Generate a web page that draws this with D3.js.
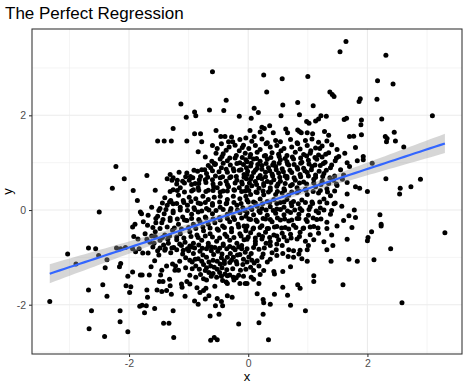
<!DOCTYPE html>
<html><head><meta charset="utf-8">
<script src="https://cdn.jsdelivr.net/npm/d3@7/dist/d3.min.js"></script>
<style>body{margin:0;background:#fff}svg{display:block}</style>
</head><body>
<svg id="chart" width="468" height="387"></svg>
<script>
const title = "The Perfect Regression";
const xLabel = "x";
const yLabel = "y";
const xTicks = [-2, 0, 2];
const yTicks = [-2, 0, 2];
const xMinor = [-3, -1, 1, 3];
const yMinor = [-3, -1, 1, 3];

// outlying / sparse points
const topPoints = [[-0.60,2.92],[-1.13,2.24],[-0.37,2.32],[-0.90,2.07],[-0.88,1.99],[-1.04,1.96],[-0.65,2.11],[-0.41,2.10],[-0.15,1.98],[-1.26,1.72],[-0.54,1.68],[-0.90,1.61],[-0.80,1.61],[-0.46,1.55],[-0.39,1.55],[-0.28,1.54],
[1.64,3.56],[1.54,3.34],[0.26,2.85],[0.57,2.77],[1.00,2.82],[0.31,2.49],[1.37,2.49],[1.41,2.44],[1.44,2.40],[0.58,2.22],[0.83,2.27],[1.09,2.20],[0.10,2.15],[0.17,2.06],[0.05,1.94],[0.55,1.99],[0.86,2.01],[1.22,1.99],[1.31,1.98],[1.18,1.92],[0.98,1.87],[1.02,1.83],[1.13,1.88],[1.61,1.91],[1.65,1.94],[0.03,1.68],[0.23,1.75],[0.27,1.72],[0.20,1.65],[0.36,1.78],[0.42,1.63],[0.63,1.71],[0.66,1.63],[0.83,1.69],[0.86,1.66],[0.89,1.63],[0.99,1.63],[1.08,1.61],[1.28,1.66],[1.35,1.58],[1.70,1.55],[1.77,1.56],[0.10,1.55],
[2.31,3.27],[2.17,2.73],[2.43,2.66],[1.88,2.35],[1.86,2.29],[2.16,2.34],[3.09,1.99],[1.90,1.90],[1.89,1.80],[2.24,1.92],[2.45,1.64],[1.90,1.59],[2.30,1.55]];

const leftPoints = [[-2.22,0.92],[-2.08,0.66],[-2.28,0.46],[-1.93,0.41],[-1.86,0.20],[-2.50,-0.04],[-1.81,-0.04],[-1.90,-0.30],[-1.94,-0.36],[-1.92,-0.56],[-1.85,-0.61],
[-3.03,-0.93],[-2.68,-0.80],[-2.56,-0.82],[-2.21,-0.80],[-2.14,-0.82],[-2.06,-0.79],[-1.94,-0.82],[-1.89,-0.88],[-1.83,-0.82],[-2.89,-1.14],[-2.51,-0.96],[-2.37,-1.05],[-2.40,-1.22],[-2.14,-1.13],[-2.16,-1.20],[-1.94,-1.31],[-2.02,-1.40],[-1.81,-1.37],[-2.44,-1.58],[-2.68,-1.69],[-2.37,-1.82],[-2.05,-1.60],[-1.97,-1.62],[-1.99,-1.74],[-3.33,-1.93],[-2.63,-2.13],[-2.15,-2.13],[-1.82,-2.03],[-2.15,-2.36],[-2.67,-2.51],[-2.02,-2.57],[-2.41,-2.67]];

const rightPoints = [[2.33,1.51],[2.32,1.44],[2.47,1.46],[2.61,1.33],[1.80,1.32],[1.93,1.13],[1.93,1.06],[1.83,1.04],[2.08,0.99],[2.31,0.66],[2.89,0.65],[2.73,0.49],[2.55,0.46],[2.54,0.34],[1.80,0.49],[1.87,0.46],[2.00,0.39],[1.78,0.00],[1.80,-0.16],[2.21,-0.10],[2.23,-0.30],[2.23,-0.34],[3.30,-0.48],[2.07,-0.46],[2.01,-0.58],[2.00,-0.65],
[1.83,-1.08],[2.11,-1.05],[2.39,-0.82],[2.58,-1.96]];

const bottomPoints = [[1.69,-1.04],[1.39,-1.08],[1.10,-1.39],[1.10,-1.51],[1.59,-1.58],[0.83,-1.58],[0.87,-1.65],[0.58,-1.63],[0.18,-1.55],[-0.02,-1.55],[0.44,-1.78],[0.66,-1.80],[0.15,-1.77],[0.25,-1.89],[0.26,-1.96],[0.37,-1.99],[0.71,-2.01],[0.96,-2.13],[0.25,-2.20],[0.18,-2.38],[0.34,-2.74],
[-1.77,-0.91],[-1.68,-0.91],[-1.39,-0.82],[-1.57,-1.07],[-1.63,-1.20],[-1.37,-1.18],[-1.27,-1.14],[-1.22,-1.18],[-1.17,-1.27],[-1.23,-1.27],[-1.45,-1.27],[-1.47,-1.37],[-1.49,-1.51],[-1.43,-1.51],[-1.78,-1.37],[-1.66,-1.37],[-1.70,-1.69],[-1.69,-1.84],[-1.71,-2.02],[-1.78,-2.01],[-1.74,-2.17],[-1.57,-2.08],[-1.53,-1.69],[-1.45,-1.72],[-1.37,-1.70],[-1.32,-1.46],[-1.31,-1.60],[-1.29,-1.78],[-1.26,-2.13],[-1.42,-2.39],[-1.33,-2.39],[-1.25,-2.69],[-1.12,-1.56],[-1.11,-1.63],[-1.03,-1.51],[-0.98,-1.56],[-1.06,-1.82],[-0.90,-1.92],[-0.84,-1.99],[-0.86,-1.64],[-0.81,-1.74],[-0.71,-1.65],[-0.75,-1.70],[-0.66,-1.81],[-0.72,-1.88],[-0.56,-1.61],[-0.55,-2.02],[-0.64,-2.24],[-0.49,-2.20],[-0.52,-1.87],[-0.45,-1.93],[-0.43,-2.02],[-0.35,-1.81],[-0.27,-1.84],[-0.16,-2.41],[-0.63,-2.75],[-0.57,-2.69],[-0.52,-2.74]];

// dense lower band (y about -0.75 .. -1.5)
const lowerBand = [[-1.12,-0.75],[-0.98,-0.76],[-0.83,-0.74],[-0.67,-0.76],[-0.42,-0.75],[-0.31,-0.77],[-0.11,-0.75],
[-1.09,-0.85],[-1.00,-0.86],[-0.81,-0.87],[-0.70,-0.82],[-0.62,-0.86],[-0.51,-0.87],[-0.36,-0.82],[-0.22,-0.84],[-0.11,-0.82],[-0.05,-0.89],
[-1.05,-1.01],[-0.98,-1.06],[-0.89,-1.04],[-0.84,-1.03],[-0.78,-1.08],[-0.70,-1.00],[-0.59,-1.06],[-0.45,-1.01],[-0.35,-1.00],[-0.25,-1.00],[-0.14,-0.94],[-0.08,-1.04],
[-0.75,-1.15],[-0.70,-1.22],[-0.63,-1.18],[-0.57,-1.21],[-0.47,-1.14],[-0.40,-1.13],[-0.31,-1.11],[-0.19,-1.14],[-0.09,-1.15],
[-0.82,-1.25],[-0.72,-1.28],[-0.66,-1.32],[-0.59,-1.34],[-0.48,-1.32],[-0.39,-1.35],[-0.35,-1.39],[-0.31,-1.37],[-0.25,-1.42],[-0.16,-1.38],
[-0.75,-1.45],[-0.70,-1.48],[-0.53,-1.42],[-0.43,-1.49],[-0.37,-1.52],[-0.35,-1.55],[-0.24,-1.48],[-0.14,-1.55],[-0.05,-1.55],
[-0.02,-0.82],[0.09,-0.79],[0.27,-0.80],[0.37,-0.75],[0.57,-0.75],[0.68,-0.84],[0.87,-0.85],[1.01,-0.75],[1.32,-0.84],[1.42,-0.75],
[0.18,-0.83],[0.47,-0.84],[0.76,-0.86],[0.99,-0.84],
[0.01,-0.99],[0.06,-1.06],[0.15,-1.07],[0.23,-1.00],[0.32,-1.10],[0.37,-1.04],[0.48,-0.96],[0.67,-0.98],[0.76,-1.00],[0.85,-0.93],[0.90,-1.03],[0.99,-1.08],
[0.04,-1.21],[0.09,-1.28],[0.18,-1.18],[0.26,-1.28],[0.43,-1.30],[0.44,-1.35],[0.58,-1.30],[0.71,-1.20],
[0.05,-1.42],[0.09,-1.46],[0.20,-1.36],
[-1.48,-0.80],[-1.30,-0.90],[-1.20,-0.84],[-1.10,-0.93],[-0.92,-0.92],[-0.76,-0.95],[-0.58,-0.94],[-0.44,-0.93],[-0.30,-0.92],[-0.18,-0.95],[0.05,-0.92],[0.25,-0.93],[0.40,-0.90],[0.58,-0.92],[0.12,-0.72],[0.30,-0.70],[0.48,-0.72],
[-1.60,-0.78],[-1.52,-0.86],[-1.42,-0.74],[-1.35,-0.62],[-1.28,-0.80],[-1.62,-0.55],[-1.70,-0.62],[-1.50,-0.95],[-1.15,-0.72],[-1.02,-0.82],
[-1.25,-0.79],[-0.90,-0.80],[-0.77,-0.81],[-0.56,-0.79],[-0.48,-0.81],[-0.25,-0.80],[-0.16,-0.78],
[-1.15,-1.08],[-0.94,-1.10],[-0.66,-1.10],[-0.52,-1.08],[-0.40,-1.07],[-0.28,-1.06],[-0.20,-1.09],[-0.02,-1.10],[0.10,-1.12],
[-1.05,-1.22],[-0.94,-1.24],[-0.88,-1.18],[-0.52,-1.25],[-0.44,-1.22],[-0.36,-1.26],[-0.26,-1.24],[-0.13,-1.27],[-0.04,-1.25],
[-0.98,-1.38],[-0.88,-1.42],[-0.80,-1.36],[-0.62,-1.40],[-0.45,-1.40],[-0.20,-1.43],[-0.08,-1.40],
[-1.40,-0.85],[-1.58,-0.70],[-0.95,-0.78],[-0.62,-0.78]];

// dense core, left half (x about -1.8 .. 0)
const coreLeft = [[-1.52,1.46],[-1.41,1.46],[-1.29,1.46],[-1.03,1.46],[-0.78,1.44],[-0.33,1.44],[-0.26,1.44],[-0.14,1.49],[-0.04,1.52],
[-0.84,1.23],[-0.52,1.30],[-0.54,1.20],[-0.37,1.26],[-0.32,1.33],[-0.15,1.25],[-0.05,1.20],[-0.67,0.94],[-0.42,1.19],[-0.22,1.37],[-0.08,1.37],[-0.72,1.12],
[-0.61,1.03],[-0.57,0.98],[-0.47,1.08],[-0.35,1.04],[-0.22,1.10],[-0.14,1.00],[-0.04,1.06],
[-1.70,0.73],[-1.31,0.75],[-1.26,0.68],[-1.16,0.80],[-1.03,0.78],[-0.97,0.71],[-0.91,0.84],[-0.78,0.85],[-0.70,0.77],[-0.63,0.89],[-0.56,0.96],[-0.45,0.89],[-0.35,0.80],[-0.25,0.87],[-0.15,0.84],[-0.07,0.75],[-0.03,0.89],
[-1.36,0.66],[-1.28,0.63],[-1.19,0.63],[-1.10,0.61],[-0.99,0.63],[-0.89,0.56],[-0.82,0.64],[-0.72,0.64],[-0.60,0.64],[-0.47,0.68],[-0.37,0.61],[-0.29,0.70],[-0.19,0.63],[-0.11,0.59],[-0.03,0.66],
[-1.56,0.42],[-1.26,0.43],[-1.14,0.47],[-0.92,0.43],[-0.84,0.47],[-0.67,0.42],[-0.58,0.49],[-0.52,0.47],[-0.42,0.40],[-0.33,0.49],[-0.24,0.43],[-0.15,0.47],[-0.05,0.40],
[-1.40,0.26],[-1.30,0.20],[-1.17,0.31],[-1.09,0.20],[-0.99,0.27],[-0.88,0.24],[-0.76,0.29],[-0.67,0.22],[-0.57,0.27],[-0.47,0.29],[-0.35,0.22],[-0.25,0.29],[-0.14,0.24],[-0.04,0.29],
[-1.62,0.06],[-1.48,0.03],[-1.36,0.10],[-1.26,0.13],[-1.14,0.06],[-1.02,0.10],[-0.91,0.05],[-0.80,0.13],[-0.70,0.03],[-0.60,0.10],[-0.47,0.06],[-0.37,0.13],[-0.29,0.03],[-0.19,0.10],[-0.09,0.05],
[-1.79,-0.08],[-1.68,-0.11],[-1.52,-0.13],[-1.41,-0.08],[-1.26,-0.06],[-1.10,-0.15],[-0.95,-0.09],[-0.84,-0.04],[-0.72,-0.15],[-0.60,-0.08],[-0.48,-0.16],[-0.35,-0.09],[-0.25,-0.15],[-0.14,-0.06],[-0.04,-0.13],
[-1.76,-0.25],[-1.69,-0.32],[-1.55,-0.27],[-1.45,-0.27],[-1.31,-0.22],[-1.17,-0.30],[-1.03,-0.22],[-0.92,-0.30],[-0.81,-0.25],[-0.67,-0.30],[-0.56,-0.27],[-0.43,-0.34],[-0.31,-0.25],[-0.17,-0.30],[-0.07,-0.34],
[-1.73,-0.50],[-1.56,-0.46],[-1.40,-0.53],[-1.27,-0.43],[-1.14,-0.50],[-0.98,-0.46],[-0.86,-0.53],[-0.75,-0.44],[-0.64,-0.50],[-0.50,-0.43],[-0.39,-0.51],[-0.28,-0.46],[-0.14,-0.50],[-0.04,-0.44],
[-1.65,-0.68],[-1.48,-0.64],[-1.34,-0.70],[-1.20,-0.63],[-1.06,-0.68],[-0.92,-0.70],[-0.78,-0.64],[-0.67,-0.70],[-0.53,-0.66],[-0.42,-0.72],[-0.31,-0.64],[-0.19,-0.70],[-0.07,-0.63]];

// dense core, right half (x about 0 .. 1.8)
const coreRight = [[0.06,1.45],[0.23,1.50],[0.32,1.42],[0.46,1.47],[0.54,1.44],[0.71,1.49],[0.82,1.42],[0.96,1.47],[1.07,1.50],[1.18,1.43],[1.32,1.46],
[0.01,1.30],[0.12,1.36],[0.20,1.28],[0.37,1.33],[0.48,1.36],[0.60,1.30],[0.73,1.33],[0.87,1.29],[0.99,1.36],[1.13,1.31],[1.24,1.35],[1.49,1.28],
[0.04,1.17],[0.15,1.22],[0.29,1.15],[0.40,1.21],[0.51,1.18],[0.65,1.15],[0.79,1.22],[0.93,1.17],[1.04,1.20],[1.18,1.16],[1.35,1.21],[1.52,1.13],
[-0.02,1.02],[0.09,1.08],[0.20,1.03],[0.32,1.07],[0.43,1.00],[0.54,1.06],[0.65,1.02],[0.76,1.08],[0.90,1.01],[1.01,1.05],[1.15,1.07],[1.29,1.01],[1.46,1.04],[1.66,1.00],
[0.04,0.93],[0.15,0.88],[0.23,0.94],[0.34,0.89],[0.46,0.92],[0.57,0.87],[0.68,0.95],[0.82,0.90],[0.93,0.88],[1.07,0.92],[1.21,0.94],[1.38,0.89],
[-0.02,0.75],[0.09,0.79],[0.20,0.73],[0.29,0.80],[0.40,0.76],[0.51,0.78],[0.62,0.72],[0.73,0.79],[0.87,0.75],[0.99,0.79],[1.13,0.74],[1.27,0.77],[1.60,0.74],
[0.04,0.65],[0.12,0.60],[0.23,0.66],[0.32,0.60],[0.43,0.64],[0.54,0.61],[0.65,0.67],[0.79,0.63],[0.93,0.59],[1.10,0.65],[1.24,0.61],[1.43,0.63],[1.66,0.58],
[-0.02,0.48],[0.06,0.51],[0.18,0.46],[0.26,0.52],[0.37,0.47],[0.48,0.50],[0.60,0.45],[0.71,0.51],[0.82,0.47],[0.96,0.44],[1.13,0.49],[1.32,0.45],[1.49,0.52],
[0.04,0.33],[0.15,0.37],[0.26,0.32],[0.34,0.38],[0.46,0.33],[0.57,0.36],[0.68,0.31],[0.82,0.37],[0.99,0.33],[1.18,0.36],[1.38,0.30],[1.66,0.34],
[-0.02,0.21],[0.09,0.17],[0.20,0.23],[0.32,0.18],[0.43,0.22],[0.54,0.16],[0.65,0.22],[0.76,0.18],[0.90,0.21],[1.07,0.17],[1.27,0.23],[1.46,0.15],
[0.04,0.05],[0.15,0.08],[0.23,0.03],[0.37,0.07],[0.48,0.02],[0.60,0.06],[0.73,0.09],[0.87,0.03],[1.04,0.07],[1.21,0.04],[1.57,0.08],
[-0.02,-0.06],[0.09,-0.10],[0.20,-0.05],[0.32,-0.11],[0.46,-0.07],[0.60,-0.10],[0.71,-0.05],[0.85,-0.09],[1.01,-0.11],[1.18,-0.06],[1.38,-0.09],[1.69,-0.12],
[0.04,-0.20],[0.15,-0.24],[0.29,-0.19],[0.40,-0.25],[0.54,-0.21],[0.68,-0.23],[0.82,-0.18],[0.99,-0.24],[1.15,-0.20],[1.32,-0.26],[1.60,-0.22],
[-0.02,-0.34],[0.09,-0.38],[0.23,-0.33],[0.34,-0.39],[0.48,-0.35],[0.62,-0.37],[0.76,-0.32],[0.93,-0.38],[1.10,-0.35],[1.32,-0.39],[1.49,-0.34],[1.74,-0.37],
[0.04,-0.48],[0.18,-0.52],[0.29,-0.47],[0.43,-0.53],[0.57,-0.49],[0.71,-0.51],[0.87,-0.47],[1.04,-0.52],[1.18,-0.49],[1.40,-0.53],
[-0.02,-0.62],[0.12,-0.66],[0.23,-0.61],[0.37,-0.67],[0.51,-0.63],[0.65,-0.65],[0.82,-0.61],[0.96,-0.66],[1.10,-0.63],[1.27,-0.67],[1.66,-0.62],
[1.40,0.95],[1.48,1.10],[1.55,0.85],[1.62,1.20],[1.30,1.18],[1.45,0.72],[1.58,0.65],[1.20,1.30],[1.70,0.92],[1.40,1.38]];

// extra points filling the solid black centre of the cloud
const coreFill = [[-0.60,1.36],[-0.45,1.40],[-0.10,1.32],[0.30,1.40],[0.55,1.25],[0.83,1.40],[1.05,1.25],
[-0.44,1.13],[-0.31,1.10],[-0.20,1.15],[-0.10,1.11],[0.03,1.12],[0.14,1.09],[0.27,1.14],[0.38,1.11],[0.52,1.13],[0.62,1.09],[0.74,1.12],[0.88,1.10],[0.98,1.14],[1.12,1.11],[1.24,1.12],
[-0.55,0.97],[-0.42,0.99],[-0.30,0.95],[-0.19,0.98],[-0.08,0.96],[0.05,0.99],[0.16,0.96],[0.30,0.98],[0.41,0.95],[0.52,0.99],[0.66,0.97],[0.77,0.96],[0.88,0.99],[1.02,0.97],[1.12,0.95],[1.26,0.98],
[-0.85,0.82],[-0.73,0.85],[-0.60,0.83],[-0.49,0.81],[-0.37,0.86],[-0.24,0.83],[-0.12,0.85],[-0.01,0.82],[0.12,0.84],[0.23,0.86],[0.36,0.83],[0.47,0.85],[0.59,0.81],[0.70,0.84],[0.83,0.86],[0.95,0.83],[1.06,0.85],[1.19,0.82],[1.31,0.84],
[-1.05,0.70],[-0.93,0.68],[-0.80,0.71],[-0.68,0.69],[-0.55,0.72],[-0.43,0.70],[-0.31,0.68],[-0.20,0.71],[-0.07,0.69],[0.06,0.71],[0.17,0.68],[0.29,0.70],[0.41,0.72],[0.53,0.69],[0.65,0.71],[0.77,0.68],[0.88,0.70],[1.01,0.72],[1.13,0.69],[1.25,0.71],[1.37,0.68],
[-1.20,0.55],[-1.07,0.57],[-0.95,0.54],[-0.83,0.56],[-0.71,0.58],[-0.59,0.55],[-0.47,0.56],[-0.35,0.54],[-0.22,0.57],[-0.10,0.55],[0.02,0.57],[0.14,0.54],[0.26,0.56],[0.38,0.58],[0.50,0.55],[0.62,0.56],[0.74,0.54],[0.86,0.57],[0.98,0.55],[1.10,0.57],[1.22,0.54],[1.35,0.56],[1.48,0.55],
[-1.31,0.39],[-1.19,0.41],[-1.07,0.38],[-0.95,0.40],[-0.83,0.42],[-0.71,0.39],[-0.59,0.41],[-0.47,0.38],[-0.35,0.40],[-0.23,0.42],[-0.11,0.39],[0.01,0.41],[0.13,0.38],[0.25,0.40],[0.37,0.42],[0.49,0.39],[0.61,0.41],[0.73,0.38],[0.85,0.40],[0.97,0.42],[1.09,0.39],[1.21,0.41],[1.33,0.38],[1.45,0.40],
[-1.44,0.15],[-1.32,0.17],[-1.20,0.14],[-1.08,0.16],[-0.96,0.18],[-0.84,0.15],[-0.72,0.16],[-0.60,0.14],[-0.48,0.17],[-0.36,0.15],[-0.24,0.16],[-0.12,0.14],[0.00,0.17],[0.12,0.15],[0.24,0.13],[0.36,0.16],[0.48,0.14],[0.60,0.17],[0.72,0.15],[0.84,0.13],[0.96,0.16],[1.08,0.14],[1.20,0.17],[1.32,0.15],[1.44,0.13],
[-1.50,-0.01],[-1.38,0.01],[-1.26,-0.02],[-1.14,0.00],[-1.02,-0.01],[-0.90,0.01],[-0.78,-0.02],[-0.66,0.00],[-0.54,-0.01],[-0.42,0.01],[-0.30,-0.02],[-0.18,0.00],[-0.06,-0.01],[0.06,0.01],[0.18,-0.02],[0.30,0.00],[0.42,-0.01],[0.54,0.01],[0.66,-0.02],[0.78,0.00],[0.90,-0.01],[1.02,0.01],[1.14,-0.02],[1.27,0.00],[1.40,-0.01],
[-1.55,-0.18],[-1.43,-0.20],[-1.31,-0.17],[-1.19,-0.19],[-1.07,-0.21],[-0.95,-0.18],[-0.83,-0.20],[-0.71,-0.17],[-0.59,-0.19],[-0.47,-0.21],[-0.35,-0.18],[-0.23,-0.20],[-0.11,-0.17],[0.01,-0.19],[0.13,-0.21],[0.25,-0.18],[0.37,-0.20],[0.49,-0.17],[0.61,-0.19],[0.73,-0.21],[0.85,-0.18],[0.97,-0.20],[1.09,-0.17],[1.22,-0.19],
[-1.60,-0.37],[-1.48,-0.39],[-1.36,-0.36],[-1.24,-0.38],[-1.12,-0.40],[-1.00,-0.37],[-0.88,-0.39],[-0.76,-0.36],[-0.64,-0.38],[-0.52,-0.40],[-0.40,-0.37],[-0.28,-0.39],[-0.16,-0.36],[-0.04,-0.38],[0.08,-0.40],[0.20,-0.37],[0.32,-0.39],[0.44,-0.36],[0.56,-0.38],[0.68,-0.40],[0.80,-0.37],[0.92,-0.39],[1.04,-0.36],[1.17,-0.38],
[-1.56,-0.56],[-1.44,-0.58],[-1.32,-0.55],[-1.20,-0.57],[-1.08,-0.59],[-0.96,-0.56],[-0.84,-0.58],[-0.72,-0.55],[-0.60,-0.57],[-0.48,-0.59],[-0.36,-0.56],[-0.24,-0.58],[-0.12,-0.55],[0.00,-0.57],[0.12,-0.59],[0.24,-0.56],[0.36,-0.58],[0.48,-0.55],[0.60,-0.57],[0.72,-0.59],[0.86,-0.56]];

const points = [].concat(topPoints, leftPoints, rightPoints, bottomPoints, lowerBand, coreLeft, coreRight, coreFill);

// layout
const W = 468, H = 387;
const panel = {left: 32, right: 462, top: 29, bottom: 354};
const xDomain = [-3.628, 3.587];
const yDomain = [-3.041, 3.823];

const svg = d3.select("#chart");
svg.append("rect").attr("width", W).attr("height", H).attr("fill", "#fff");

const x = d3.scaleLinear().domain(xDomain).range([panel.left, panel.right]);
const y = d3.scaleLinear().domain(yDomain).range([panel.bottom, panel.top]);

const font = "'Liberation Sans', Arial, Helvetica, sans-serif";

const grid = svg.append("g");
xMinor.forEach(v => grid.append("line").attr("x1", x(v)).attr("x2", x(v)).attr("y1", panel.top).attr("y2", panel.bottom).attr("stroke", "#EBEBEB").attr("stroke-width", 0.55));
yMinor.forEach(v => grid.append("line").attr("y1", y(v)).attr("y2", y(v)).attr("x1", panel.left).attr("x2", panel.right).attr("stroke", "#EBEBEB").attr("stroke-width", 0.55));
xTicks.forEach(v => grid.append("line").attr("x1", x(v)).attr("x2", x(v)).attr("y1", panel.top).attr("y2", panel.bottom).attr("stroke", "#EBEBEB").attr("stroke-width", 1.1));
yTicks.forEach(v => grid.append("line").attr("y1", y(v)).attr("y2", y(v)).attr("x1", panel.left).attr("x2", panel.right).attr("stroke", "#EBEBEB").attr("stroke-width", 1.1));

// points
svg.append("g").selectAll("circle").data(points).join("circle")
  .attr("cx", d => x(d[0])).attr("cy", d => y(d[1])).attr("r", 2.5).attr("fill", "#000");

// linear fit with 95% confidence band (as geom_smooth(method = "lm"))
const n = points.length;
const mx = d3.mean(points, d => d[0]), my = d3.mean(points, d => d[1]);
const sxx = d3.sum(points, d => (d[0] - mx) ** 2);
const sxy = d3.sum(points, d => (d[0] - mx) * (d[1] - my));
const slope = sxy / sxx, intercept = my - slope * mx;
const rss = d3.sum(points, d => (d[1] - intercept - slope * d[0]) ** 2);
const s = Math.sqrt(rss / (n - 2));
const tq = 1.962;
const [xmin, xmax] = d3.extent(points, d => d[0]);
const fit = d3.range(80).map(i => {
  const xv = xmin + (xmax - xmin) * i / 79;
  const yv = intercept + slope * xv;
  const se = s * Math.sqrt(1 / n + (xv - mx) ** 2 / sxx);
  return {x: xv, y: yv, lo: yv - tq * se, hi: yv + tq * se};
});
svg.append("path").datum(fit)
  .attr("d", d3.area().x(d => x(d.x)).y0(d => y(d.lo)).y1(d => y(d.hi)))
  .attr("fill", "#999999").attr("fill-opacity", 0.4);
svg.append("path").datum(fit)
  .attr("d", d3.line().x(d => x(d.x)).y(d => y(d.y)))
  .attr("fill", "none").attr("stroke", "#3366FF").attr("stroke-width", 2.2);

// panel border
svg.append("rect").attr("x", panel.left).attr("y", panel.top)
  .attr("width", panel.right - panel.left).attr("height", panel.bottom - panel.top)
  .attr("fill", "none").attr("stroke", "#333333").attr("stroke-width", 1.07);

// axes
const fmt = d => d < 0 ? "-" + Math.abs(d) : String(d);
const xAxis = d3.axisBottom(x).tickValues(xTicks).tickSize(3).tickPadding(3).tickFormat(fmt);
const yAxis = d3.axisLeft(y).tickValues(yTicks).tickSize(3).tickPadding(3).tickFormat(fmt);
const gx = svg.append("g").attr("transform", `translate(0,${panel.bottom})`).call(xAxis);
const gy = svg.append("g").attr("transform", `translate(${panel.left},0)`).call(yAxis);
[gx, gy].forEach(g => {
  g.select(".domain").remove();
  g.selectAll(".tick line").attr("stroke", "#333333").attr("stroke-width", 1.07);
  g.selectAll(".tick text").attr("fill", "#4D4D4D").attr("font-family", font).attr("font-size", 10.5);
});

svg.append("text").attr("x", (panel.left + panel.right) / 2).attr("y", 381)
  .attr("text-anchor", "middle").attr("font-family", font).attr("font-size", 13).attr("fill", "#000").text(xLabel);
svg.append("text").attr("transform", `translate(12,${(panel.top + panel.bottom) / 2}) rotate(-90)`)
  .attr("text-anchor", "middle").attr("font-family", font).attr("font-size", 13).attr("fill", "#000").text(yLabel);

svg.append("text").attr("x", 5).attr("y", 19)
  .attr("font-family", font).attr("font-size", 17).attr("fill", "#000").text(title);
</script>
</body></html>
